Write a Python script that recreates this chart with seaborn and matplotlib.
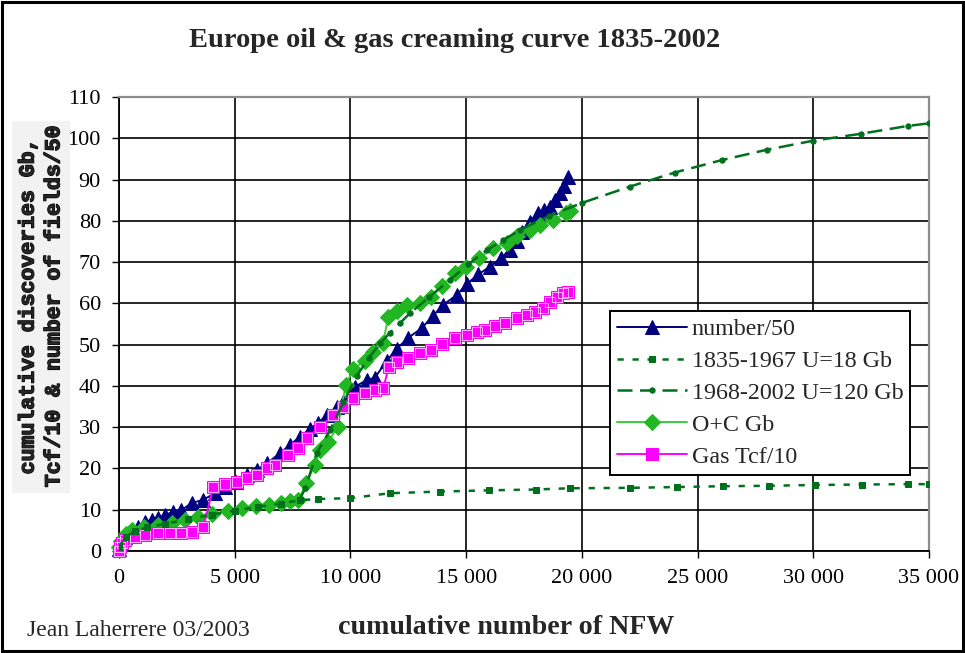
import matplotlib
matplotlib.use("Agg")
import matplotlib.pyplot as plt
import matplotlib.patheffects as pe
from matplotlib.patches import Rectangle
from matplotlib.ticker import FuncFormatter
import seaborn as sns

# number of fields / 50
num_x = [0, 60, 260, 550, 820, 1120, 1410, 1690, 1990, 2340, 2700, 3140, 3630, 4150,
         4600, 5050, 5520, 5950, 6380, 6960, 7390, 7820, 8250, 8600, 9000, 9400, 9700,
         10200, 10700, 11060, 11560, 12000, 12490, 13080, 13570, 14000, 14590, 15050,
         15520, 16030, 16500, 16900, 17180, 17400, 17760, 18100, 18350, 18620, 18850,
         19050, 19250, 19400]
num_y = [0.5, 2.0, 3.5, 5.1, 5.9, 7.1, 7.5, 8.0, 8.7, 9.5, 9.9, 11.6, 12.4, 14.0,
         15.4, 16.8, 18.4, 19.6, 21.2, 23.7, 25.7, 27.7, 29.5, 31.0, 33.0, 35.0, 36.0,
         39.8, 41.4, 42.0, 46.0, 49.0, 51.6, 54.0, 57.0, 59.6, 62.0, 64.8,
         67.0, 68.9, 71.0, 73.0, 75.0, 77.4, 79.8, 81.9, 82.5, 83.4, 85.0,
         86.7, 88.5, 90.7]

# hyperbolic fit 1835-1967
fit1_x = [0, 300, 700, 1200, 2000, 3000, 4000, 5000, 6000, 7000, 7800, 8600, 9980,
          11710, 13870, 16000, 18000, 19480, 22080, 24100, 26100, 28100, 30070, 32100,
          34090, 35000]
fit1_y = [1.0, 3.5, 4.8, 5.7, 6.6, 7.7, 8.8, 9.8, 10.7, 11.5, 12.3, 12.6, 12.8,
          14.0, 14.4, 14.7, 14.9, 15.2, 15.3, 15.5, 15.7, 15.8, 16.0, 16.1,
          16.2, 16.2]

# hyperbolic fit 1968-2002
fit2_x = [7800, 8050, 8540, 9120, 9700, 10270, 10800, 11280, 11700, 12140, 12570, 13400,
          14300, 15100, 15890, 16600, 17330, 18600, 19990, 22080, 24020, 26040, 27980,
          29990, 32080, 34100, 35000]
fit2_y = [12.4, 15.2, 23.7, 29.3, 36.0, 42.4, 46.8, 50.3, 52.8, 55.2, 57.6, 61.5,
          65.7, 69.5, 72.9, 75.3, 77.8, 81.2, 84.3, 88.3, 91.7, 94.7, 97.2,
          99.4, 101.1, 103.0, 103.6]

# oil + condensate, Gb
oc_x = [0, 100, 300, 550, 1100, 1700, 2300, 2850, 3400, 4000, 4700, 5300, 5900, 6500,
        7000, 7400, 7750, 8100, 8450, 8700, 9050, 9450, 9800, 10120, 10630, 10990, 11420,
        11630, 12000, 12430, 13000, 13500, 13950, 14500, 15000, 15550, 16150, 16750,
        17200, 17750, 18200, 18750, 19300, 19500]
oc_y = [1.0, 2.5, 4.0, 5.1, 5.9, 6.4, 6.9, 7.4, 8.3, 8.9, 9.8, 10.3, 10.8, 11.2,
        11.7, 12.1, 12.4, 16.4, 20.8, 24.5, 26.5, 30.1, 40.2, 44.1, 46.1, 48.1, 50.5,
        56.8, 58.2, 59.6, 60.1, 61.6, 64.2, 67.3, 68.9, 71.0, 73.3, 74.6,
        76.2, 77.8, 79.0, 80.2, 81.8, 82.4]

# gas, Tcf / 10
gas_x = [0, 40, 120, 260, 690, 1120, 1700, 2200, 2700, 3140, 3640, 4080, 4580, 5080,
         5520, 5950, 6380, 6740, 7310, 7750, 8110, 8690, 9260, 9690, 10120, 10630, 11060,
         11420, 11650, 12000, 12500, 13000, 13470, 13940, 14520, 15020, 15450, 15810,
         16240, 16680, 17180, 17610, 17970, 18330, 18620, 18910, 19200, 19410]
gas_y = [0.0, 1.0, 2.0, 2.7, 3.5, 3.9, 4.3, 4.3, 4.4, 4.5, 5.7, 15.6, 16.2, 16.8,
         17.6, 18.4, 20.0, 20.8, 23.3, 24.9, 27.3, 30.1, 33.0, 35.0, 37.0, 38.2, 39.0,
         39.4, 44.5, 45.7, 46.7, 47.9, 48.8, 50.1, 51.5, 52.4, 53.1, 53.5,
         54.4, 55.2, 56.4, 57.2, 58.0, 58.8, 60.4, 61.6, 62.4, 62.8]

x_ticks = [0, 5000, 10000, 15000, 20000, 25000, 30000, 35000]
y_ticks = [0, 10, 20, 30, 40, 50, 60, 70, 80, 90, 100, 110]

sns.set_style("white")
plt.rcParams["font.family"] = ["Liberation Serif", "DejaVu Serif"]

fig = plt.figure(figsize=(9.65, 6.53), dpi=100)
ax = fig.add_axes([0.1233, 0.1562, 0.9627 - 0.1233, 0.8515 - 0.1562])

NAVY = "#000080"
DKGREEN = "#00701c"
GREEN = "#22b622"
LGREEN = "#3ccc3c"
MAGENTA = "#ff00ff"

common = dict(estimator=None, sort=False, ax=ax)

sns.lineplot(x=num_x, y=num_y, color=NAVY, lw=1.4, marker="^", markersize=10,
             markerfacecolor=NAVY, markeredgecolor=NAVY, label="number/50",
             zorder=4, clip_on=False, **common)
sns.lineplot(x=fit1_x, y=fit1_y, color=DKGREEN, lw=1.8, linestyle=(0, (2.5, 3.5)),
             marker="s", markersize=4, markerfacecolor=DKGREEN, markeredgecolor=DKGREEN,
             label="1835-1967 U=18 Gb", zorder=5, **common)
sns.lineplot(x=fit2_x, y=fit2_y, color=DKGREEN, lw=1.8, linestyle=(0, (6, 3)),
             marker="o", markersize=3.8, markerfacecolor=DKGREEN, markeredgecolor=DKGREEN,
             label="1968-2002 U=120 Gb", zorder=5, **common)
sns.lineplot(x=oc_x, y=oc_y, color=LGREEN, lw=1.4, marker="D", markersize=8.5,
             markerfacecolor=GREEN, markeredgecolor=GREEN, label="O+C Gb",
             zorder=4.5, clip_on=False, **common)
sns.lineplot(x=gas_x, y=gas_y, color=MAGENTA, lw=1.4, marker="s", markersize=9,
             markerfacecolor=MAGENTA, markeredgecolor=MAGENTA, label="Gas Tcf/10",
             zorder=4.6, clip_on=False, **common)
# light inner outline of the gas squares
ax.plot(gas_x, gas_y, linestyle="none", marker="s", markersize=6.5,
        markerfacecolor="none", markeredgecolor="#ffc8ff", markeredgewidth=0.6,
        zorder=4.7, clip_on=False)

ax.set_xlim(0, 35000)
ax.set_ylim(0, 110)
ax.set_xticks(x_ticks)
ax.set_yticks(y_ticks)
ax.xaxis.set_major_formatter(FuncFormatter(lambda v, p: f"{int(v):,}".replace(",", " ")))
ax.set_xlabel("")
ax.set_ylabel("")
ax.grid(True, color="black", lw=1.2)
ax.set_axisbelow(True)
ax.tick_params(axis="both", direction="out", length=5, width=1, color="black",
               labelsize=16, pad=8, labelcolor="black")
ax.tick_params(axis="x", bottom=True)
ax.tick_params(axis="y", left=True)
for side in ("left", "bottom"):
    ax.spines[side].set_color("black")
    ax.spines[side].set_linewidth(1.3)
for side in ("top", "right"):
    ax.spines[side].set_color("#8c8c8c")
    ax.spines[side].set_linewidth(1.6)

leg = ax.legend(loc="upper left", bbox_to_anchor=(0.606, 0.5286), borderaxespad=0,
                fontsize=17.3, frameon=True, fancybox=False, framealpha=1,
                edgecolor="black", handlelength=2.9, handletextpad=0.2,
                labelspacing=0.42, borderpad=0.3)
leg.get_frame().set_linewidth(1.4)
leg.set_zorder(10)

fig.text(0.4715, 0.9387, "Europe oil & gas creaming curve 1835-2002",
         ha="center", va="center", fontsize=20.5, fontweight="bold")
fig.text(0.5244, 0.0383, "cumulative number of NFW", ha="center", va="center",
         fontsize=20.2, fontweight="bold")
fig.text(0.028, 0.0337, "Jean Laherrere 03/2003", ha="left", va="center", fontsize=17)
fig.text(0.0425, 0.5299, "cumulative discoveries Gb,\nTcf/10 & number of fields/50",
         rotation=90, ha="center", va="center", fontsize=15.5, fontweight="bold",
         family=["Liberation Mono", "DejaVu Sans Mono"], linespacing=1.3,
         path_effects=[pe.withStroke(linewidth=0.9, foreground="black")],
         bbox=dict(facecolor="#f2f2f2", edgecolor="none", pad=4))

fig.patches.append(Rectangle((0.002, 0.003), 0.996, 0.994, transform=fig.transFigure,
                             fill=False, edgecolor="black", lw=2.2))

fig.savefig("out.png", dpi=100, facecolor="white")
